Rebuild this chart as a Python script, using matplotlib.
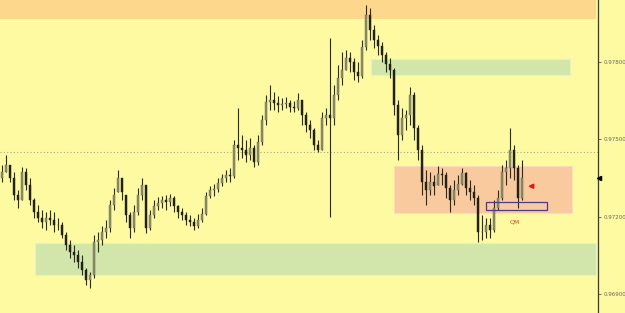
import numpy as np
import matplotlib
matplotlib.use('Agg')
import matplotlib.pyplot as plt
from matplotlib.patches import Rectangle

# bar data in points (price * 1e5), one entry per bar
HIGH = [97400, 97439, 97400, 97373, 97303, 97393, 97389, 97350, 97272, 97245,
        97226, 97218, 97226, 97218, 97195, 97179, 97140, 97109, 97090, 97071,
        97051, 97001, 96985, 97129, 97140, 97164, 97187, 97265, 97311, 97381,
        97350, 97284, 97218, 97245, 97311, 97350, 97323, 97226, 97265, 97276,
        97280, 97284, 97288, 97280, 97245, 97234, 97218, 97206, 97195, 97210,
        97234, 97296, 97319, 97327, 97350, 97365, 97381, 97389, 97497, 97622,
        97517, 97497, 97505, 97478, 97517, 97594, 97672, 97711, 97684, 97668,
        97660, 97664, 97653, 97649, 97680, 97653, 97606, 97575, 97544, 97497,
        97606, 97622, 97893, 97711, 97788, 97839, 97847, 97839, 97816, 97800,
        97885, 98021, 98010, 97944, 97905, 97878, 97839, 97816, 97777, 97653,
        97622, 97614, 97703, 97684, 97556, 97478, 97381, 97373, 97362, 97397,
        97389, 97373, 97323, 97342, 97362, 97389, 97373, 97342, 97323, 97284,
        97206, 97195, 97195, 97265, 97303, 97400, 97420, 97544, 97478, 97400,
        97420]
LOW = [97334, 97373, 97334, 97265, 97234, 97265, 97303, 97245, 97195, 97179,
       97156, 97148, 97168, 97140, 97148, 97117, 97071, 97040, 97024, 97001,
       96974, 96935, 96923, 96962, 97063, 97090, 97117, 97140, 97226, 97296,
       97265, 97179, 97117, 97140, 97206, 97265, 97137, 97148, 97195, 97226,
       97234, 97226, 97241, 97218, 97195, 97187, 97168, 97164, 97148, 97156,
       97179, 97206, 97272, 97280, 97296, 97319, 97334, 97334, 97350, 97420,
       97428, 97412, 97420, 97393, 97400, 97478, 97556, 97614, 97614, 97606,
       97614, 97622, 97606, 97606, 97614, 97556, 97528, 97505, 97459, 97451,
       97459, 97556, 97199, 97556, 97653, 97711, 97769, 97761, 97730, 97722,
       97738, 97847, 97885, 97854, 97827, 97800, 97761, 97738, 97594, 97420,
       97497, 97536, 97556, 97497, 97420, 97284, 97245, 97284, 97284, 97323,
       97323, 97272, 97218, 97245, 97284, 97323, 97284, 97265, 97245, 97102,
       97109, 97117, 97117, 97140, 97226, 97265, 97323, 97350, 97342, 97234,
       97265]
CLOSE = [97373, 97400, 97350, 97284, 97265, 97373, 97323, 97265, 97218, 97195,
         97179, 97195, 97187, 97168, 97168, 97129, 97090, 97063, 97051, 97024,
         96993, 96954, 96974, 97102, 97109, 97140, 97156, 97245, 97284, 97350,
         97296, 97206, 97156, 97218, 97284, 97323, 97156, 97206, 97241, 97253,
         97265, 97257, 97272, 97241, 97218, 97206, 97187, 97179, 97164, 97187,
         97210, 97280, 97303, 97307, 97331, 97350, 97362, 97358, 97478, 97466,
         97459, 97439, 97466, 97412, 97490, 97575, 97645, 97653, 97641, 97633,
         97637, 97641, 97625, 97622, 97653, 97594, 97556, 97536, 97478, 97459,
         97583, 97594, 97583, 97672, 97738, 97769, 97816, 97800, 97761, 97746,
         97858, 97982, 97924, 97885, 97862, 97827, 97792, 97769, 97633, 97517,
         97583, 97594, 97672, 97544, 97459, 97334, 97303, 97334, 97319, 97365,
         97362, 97311, 97265, 97303, 97327, 97369, 97311, 97296, 97272, 97140,
         97140, 97168, 97148, 97234, 97272, 97373, 97389, 97459, 97389, 97272,
         97350]
FIRST_OPEN = 97350

PRICE_TICKS = [0.96900, 0.97200, 0.97500, 0.97800]
Y_RANGE = (0.96826, 0.98041)
BID_LINE = 0.97451

# zones: (x0 bar, x1 bar, low price, high price)
ZONE_TOP = (-0.5, 148.5, 0.97967, 0.98041)
ZONE_GREEN_UP = (92.3, 142.0, 0.97750, 0.97812)
ZONE_SALMON = (98.0, 142.5, 0.97216, 0.97395)
ZONE_GREEN_LOW = (8.3, 148.5, 0.96974, 0.97099)
QM_BOX = (121.0, 136.3, 0.97227, 0.97258)
ARROW_PRICE = 0.97318
QM_PRICE = 0.97190

BG = '#fefaa2'

high = np.array(HIGH) / 1e5
low = np.array(LOW) / 1e5
close = np.array(CLOSE) / 1e5
opn = np.concatenate([[FIRST_OPEN / 1e5], close[:-1]])
opn = np.clip(opn, low, high)
idx = np.arange(len(close))

fig = plt.figure(figsize=(6.25, 3.13), dpi=100, facecolor=BG)
ax = fig.add_axes([0, 0, 598 / 625, 1])
ax.set_facecolor(BG)
ax.set_xlim(-0.5, 149)
ax.set_ylim(*Y_RANGE)


def zone(z, color, **kw):
    x0, x1, y0, y1 = z
    ax.add_patch(Rectangle((x0, y0), x1 - x0, y1 - y0, facecolor=color,
                           zorder=1, **kw))


zone(ZONE_TOP, '#fdd88c', edgecolor='none')
zone(ZONE_GREEN_UP, '#d2e6ac', edgecolor='#e6f0c8', lw=0.8)
zone(ZONE_SALMON, '#f9ca9e', edgecolor='#fbdcc0', lw=0.8)
zone(ZONE_GREEN_LOW, '#d2e6ac', edgecolor='#e6f0c8', lw=0.8)

ax.axhline(BID_LINE, color='#a8a890', lw=0.8, ls=(0, (1, 2)), zorder=2)

# candles
up = close >= opn
ax.vlines(idx, low, high, color='#2a2a22', lw=0.8, zorder=3)
body_lo = np.minimum(opn, close)
body_hi = np.maximum(opn, close)
ax.bar(idx[up], (body_hi - body_lo)[up], bottom=body_lo[up], width=0.45,
       color='#8e8e6a', edgecolor='#6a6a50', lw=0.3, zorder=4)
ax.bar(idx[~up], (body_hi - body_lo)[~up], bottom=body_lo[~up], width=0.45,
       color='#22221a', edgecolor='#22221a', lw=0.3, zorder=4)

x0, x1, y0, y1 = QM_BOX
ax.add_patch(Rectangle((x0, y0), x1 - x0, y1 - y0, facecolor='none',
                       edgecolor='#4a3a8c', lw=0.9, zorder=5))
ax.text((x0 + x1) / 2 - 0.5, QM_PRICE, 'QM', color='#d84a2a', fontsize=4.5,
        ha='center', va='top', zorder=5)
ax.annotate('', xy=(130.8, ARROW_PRICE), xytext=(133.3, ARROW_PRICE),
            arrowprops=dict(arrowstyle='-|>', color='#e01818', lw=1.4,
                            mutation_scale=6), zorder=6)

# right price scale
for s in ['left', 'top', 'bottom']:
    ax.spines[s].set_visible(False)
ax.spines['right'].set_color('#3a3a3a')
ax.spines['right'].set_linewidth(0.9)
ax.yaxis.tick_right()
ax.set_yticks(PRICE_TICKS)
ax.set_yticklabels([f'{p:.5f}' for p in PRICE_TICKS])
ax.tick_params(axis='y', length=2.5, width=0.6, color='#555555', pad=1.5,
               labelsize=4, labelcolor='#666666')
ax.set_xticks([])
ax.plot([149.2], [close[-1]], marker='<', color='black', ms=3,
        clip_on=False, zorder=6)

fig.savefig('out.png', dpi=100, facecolor=BG)
